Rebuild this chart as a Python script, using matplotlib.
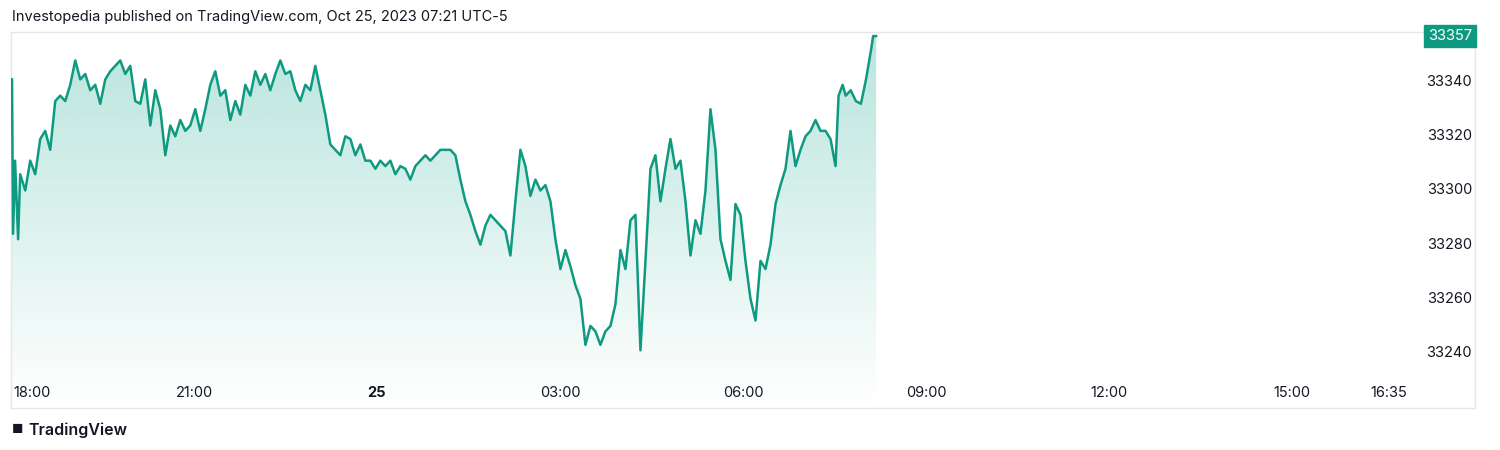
import numpy as np
import matplotlib
matplotlib.use("Agg")
import matplotlib.pyplot as plt
import matplotlib.transforms as mtransforms
from matplotlib.colors import to_rgb

plt.rcParams['font.family'] = ['Inter', 'DejaVu Sans']

prices = [33341,33284,33311,33282,33306,
33300,33311,33306,33319,33322,33315,33333,33335,33333,33339,33348,33341,33343,33337,33339,33332,33341,33344,33346,33348,
33343,33346,33333,33332,33341,33324,33337,33330,33313,33324,33320,33326,33322,33324,33330,33322,33330,33339,33344,33335,
33337,33326,33333,33328,33339,33335,33344,33339,33343,33337,33343,33348,33343,33344,33337,33333,33339,33337,33346,33337,
33328,33317,33315,33313,33320,33319,33313,33317,33311,33311,33308,33311,33309,33311,33306,33309,33308,33304,33309,33311,
33313,33311,33313,33315,33315,33315,33313,33304,33296,33291,33285,33280,33287,33291,33289,33287,33285,33276,33296,33315,
33309,33298,33304,33300,33302,33296,33282,33271,33278,33272,33265,33260,33243,33250,33248,33243,33248,33250,33258,33278,
33271,33289,33291,33241,33274,33308,33313,33296,33308,33319,33308,33311,33296,33276,33289,33284,33300,33330,33315,33282,
33274,33267,33295,33291,33274,33260,33252,33274,33271,33280,33295,33302,33308,33322,33309,33315,33320,33322,33326,33322,
33322,33319,33309,
33335,33339,33335,33337,33333,33332,33341,33352,33357,33357]
head_minutes = [1, 2, 4, 7, 9]
tail_minutes = [814, 818, 821, 826, 831, 836, 841, 846, 848, 851]
n_mid = len(prices) - len(head_minutes) - len(tail_minutes)
minutes = np.array(head_minutes + list(np.linspace(14, 811, n_mid)) + tail_minutes)

ytick_vals = [33240, 33260, 33280, 33300, 33320, 33340]
xtick_min = [0, 180, 360, 540, 720, 900, 1080, 1260, 1355]
xtick_lbl = ["18:00", "21:00", "25", "03:00", "06:00", "09:00", "12:00", "15:00", "16:35"]
last_price = "33357"

col = "#0e9a80"
fig = plt.figure(figsize=(15, 4.5), dpi=100)
ax = fig.add_axes([11/1500, 1-408/450, (1475-11)/1500, (408-32)/450])
xmin, xmax = 0, 1440
ymin, ymax = 33219.7, 33358.5
ax.set_xlim(xmin, xmax); ax.set_ylim(ymin, ymax)

ax.plot(minutes, prices, color=col, lw=1.8, zorder=3)
poly = ax.fill_between(minutes, prices, ymin, color='none', lw=0)
rgb = to_rgb("#22ab94")
grad = np.zeros((256, 1, 4))
grad[:, :, :3] = rgb
grad[:, 0, 3] = np.linspace(0.32, 0.0, 256)
im = ax.imshow(grad, extent=[minutes[0], minutes[-1], ymin, ymax], aspect='auto', origin='upper', zorder=2)
im.set_clip_path(poly.get_paths()[0], transform=ax.transData)

ax.set_xticks([]); ax.set_yticks([])
for s in ax.spines.values():
    s.set_color("#e6e6e6"); s.set_linewidth(1)

ty = mtransforms.blended_transform_factory(ax.transAxes, ax.transData)
for v in ytick_vals:
    ax.text((1472-11)/1464, v, str(v), transform=ty, ha='right', va='center', fontsize=10.5, color="#131722")
ax.text((1472-11)/1464, 33357, last_price, transform=ty, ha='right', va='center', fontsize=10.5, color='white',
        bbox=dict(boxstyle='square,pad=0.3', fc=col, ec=col), zorder=5)
tx = mtransforms.blended_transform_factory(ax.transData, ax.transAxes)
for m, l in zip(xtick_min, xtick_lbl):
    ax.text(m if m else 2, (408-393)/376, l, transform=tx, ha='center' if m else 'left', va='center',
            fontsize=10.5, color="#131722", fontweight='bold' if l == "25" else 'normal')

fig.text(12/1500, 1-17/450, "Investopedia published on TradingView.com, Oct 25, 2023 07:21 UTC-5",
         fontsize=10.5, color="#131722", va='center')
fig.text(12/1500, 1-430/450, "\u25a0", fontsize=9, color="#131722", va='center')
fig.text(28/1500, 1-430/450, "TradingView", fontsize=11.5, color="#131722", va='center', fontweight='semibold')
fig.savefig("out.png", dpi=100)
